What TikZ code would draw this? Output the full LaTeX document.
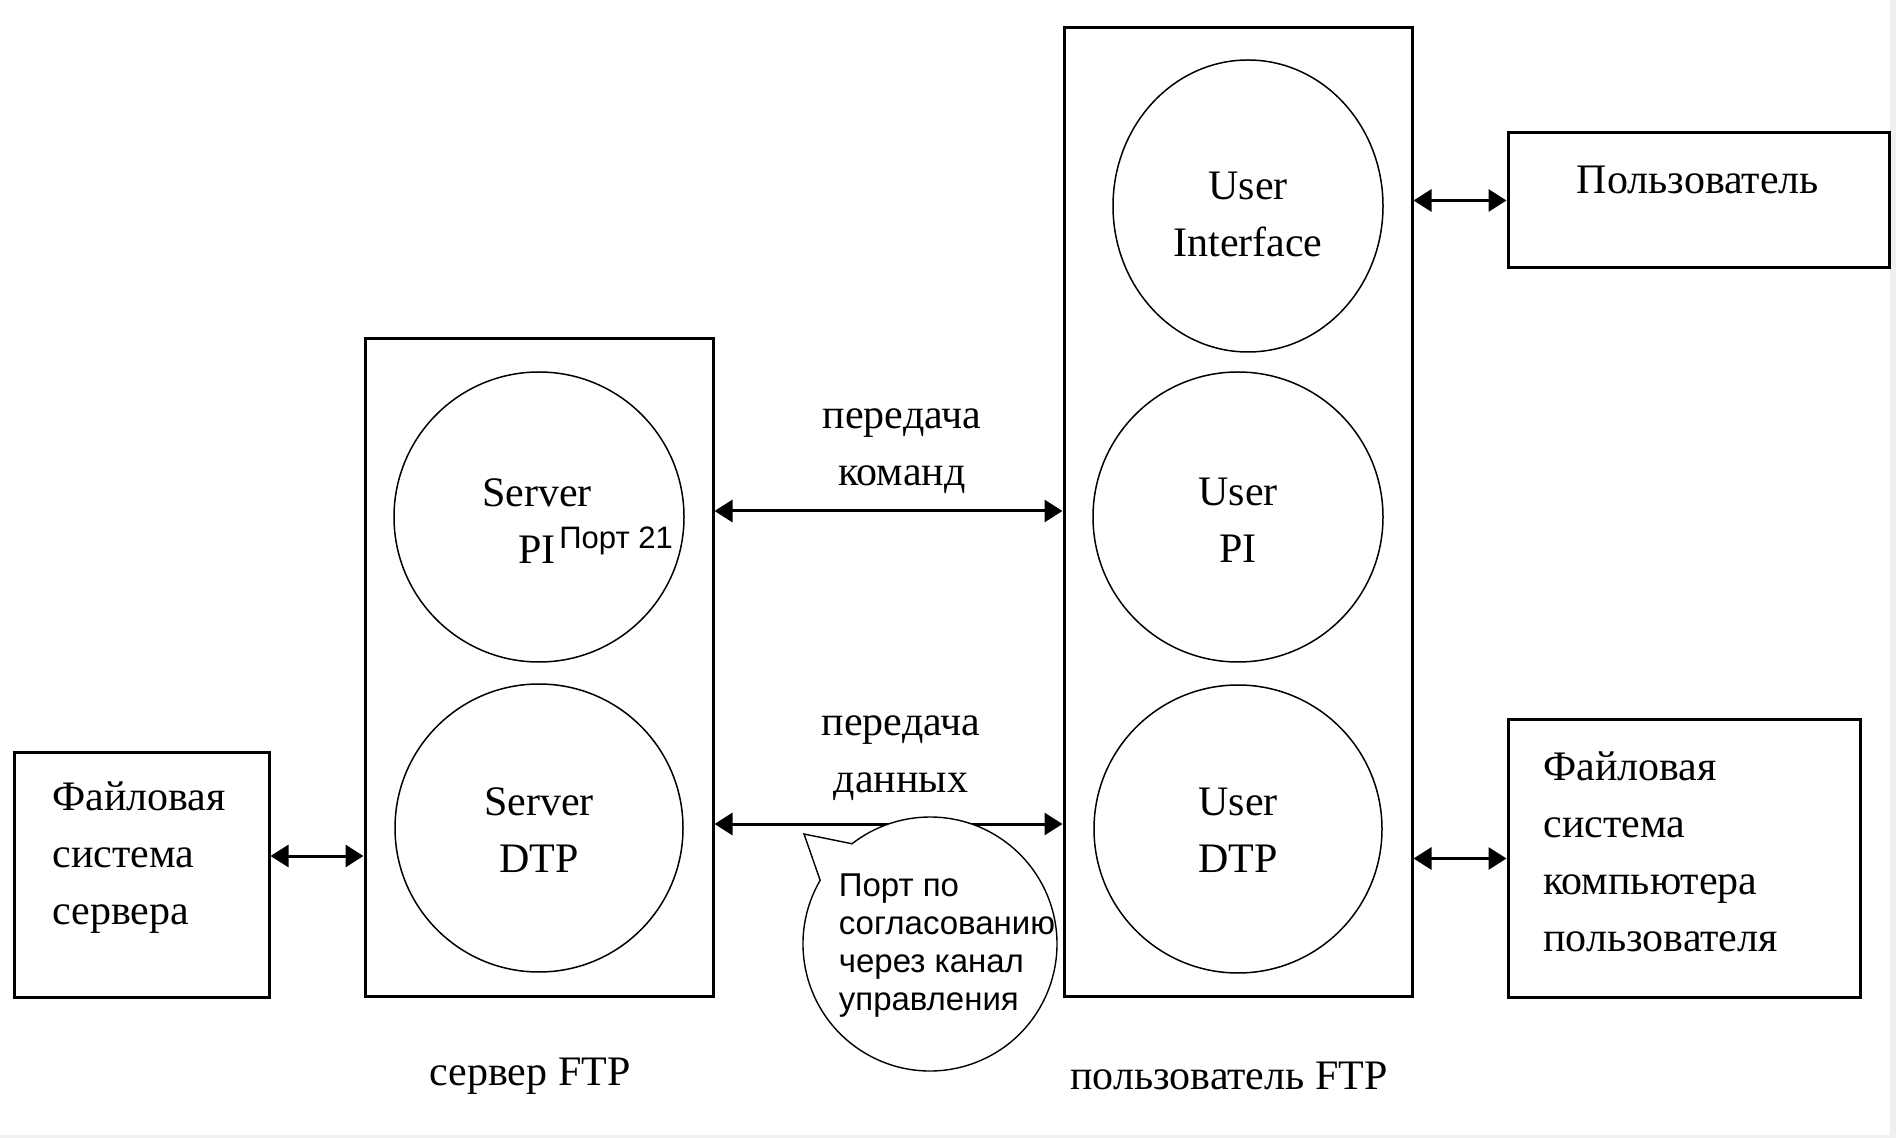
\documentclass[tikz,border=0pt]{standalone}
\usepackage{fontspec}
\setmainfont{Liberation Serif}
\newfontfamily\sansf{Liberation Sans}
\usetikzlibrary{arrows.meta,shapes.geometric,shapes.callouts}

\begin{document}
\begin{tikzpicture}[x=0.5pt,y=-0.5pt,
  frame/.style={draw,line width=1.5pt,rectangle,inner sep=0pt},
  unit/.style={draw,line width=0.75pt,circle,inner sep=0pt,minimum size=145pt},
  lbl/.style={font=\fontsize{21pt}{28.5pt}\selectfont,align=center,inner sep=0pt},
  lbll/.style={font=\fontsize{21pt}{28.5pt}\selectfont,align=left,inner sep=0pt,anchor=west},
  note/.style={font=\sansf\fontsize{16.5pt}{19pt}\selectfont,align=left,inner sep=0pt},
  biarrow/.style={line width=1.5pt,{Triangle[length=9pt,width=11pt]}-{Triangle[length=9pt,width=11pt]}}]

% canvas and thin grey edge strips
\useasboundingbox (0,0) rectangle (1896,1138);
\fill[white] (0,0) rectangle (1896,1138);
\fill[black!6] (1890,0) rectangle (1896,1138);
\fill[black!6] (0,1135) rectangle (1896,1138);

% server side
\node[frame,minimum width=127.5pt,minimum height=122.5pt] (fss) at (141.5,874.5) {};
\node[lbll] (fsst) at (52,858) {Файловая\\система\\сервера};

\node[frame,minimum width=174pt,minimum height=328.5pt] (srv) at (539,667.5) {};
\node[unit] (spi) at (539,517) {};
\node[lbl] (spit) at (537,521) {Server\\PI};
\node[note,anchor=west,font=\sansf\fontsize{15.5pt}{19pt}\selectfont] (port) at (559,541) {Порт 21};
\node[unit,minimum size=144pt] (sdtp) at (539,828) {};
\node[lbl] (sdtpt) at (539,830) {Server\\DTP};
\node[lbl] (srvt) at (530,1076) {сервер FTP};

% user side
\node[frame,minimum width=174pt,minimum height=484pt] (usr) at (1238,512) {};
\node[draw,line width=0.75pt,ellipse,inner sep=0pt,minimum width=135pt,minimum height=146pt] (ui) at (1248,206) {};
\node[lbl] (uit) at (1248,214) {User\\Interface};
\node[unit] (upi) at (1238,517) {};
\node[lbl] (upit) at (1238,520) {User\\PI};
\node[unit,minimum size=144pt] (udtp) at (1238,829) {};
\node[lbl] (udtpt) at (1238,830) {User\\DTP};
\node[lbl] (usrt) at (1229,1076) {пользователь FTP};

\node[frame,minimum width=190.5pt,minimum height=67.5pt] (user) at (1698.5,200.5) {};
\node[lbl] (usert) at (1698,180) {Пользователь};

\node[frame,minimum width=176pt,minimum height=138.5pt] (ufs) at (1684,858.5) {};
\node[lbll] (ufst) at (1543,852) {Файловая\\система\\компьютера\\пользователя};

% connections
\coordinate (fsa) at ([yshift=9.25pt]fss.east);
\draw[biarrow] (fsa) -- (fsa -| srv.west);

\coordinate (cmd) at (srv.east |- 0,511);
\draw[biarrow] (cmd) -- (cmd -| usr.west);
\node[lbl] (cmdt) at (902,451) {передача\\команд};

\coordinate (dat) at (srv.east |- 0,824);
\draw[biarrow] (dat) -- (dat -| usr.west);
\node[lbl] (datt) at (901,758) {передача\\данных};

\draw[biarrow] (usr.east |- user.west) -- (user.west);
\draw[biarrow] (usr.east |- ufs.west) -- (ufs.west);

% callout on the data channel
\coordinate (tip) at (804,834);
\node[ellipse callout,draw,fill=white,line width=0.7pt,inner sep=0pt,
      minimum width=127pt,minimum height=127pt,callout pointer arc=22,
      callout absolute pointer={(tip)}] (cl) at (930,944) {};
\node[note] (clt) at (947,946) {Порт по\\согласованию\\через канал\\управления};
\end{tikzpicture}
\end{document}
